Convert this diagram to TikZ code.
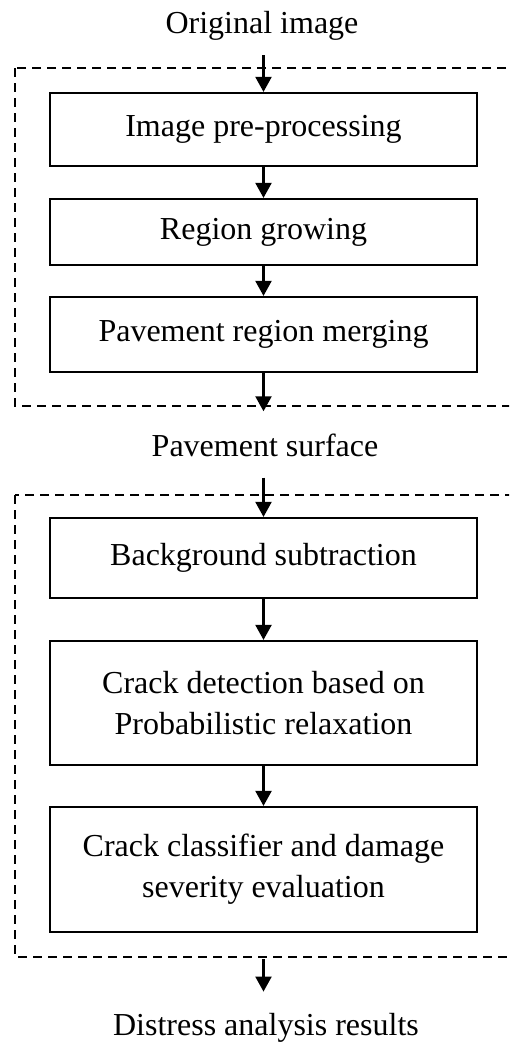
\documentclass[tikz,border=0pt]{standalone}
\usepackage{fontspec}
\setmainfont{Liberation Serif}
\usepackage{tikz}
\usetikzlibrary{arrows.meta, positioning}

\begin{document}
\begin{tikzpicture}[
  x=1pt, y=-1pt,
  font=\fontsize{32}{41}\selectfont,
  stage/.style={draw, line width=2.2pt, minimum width=427pt, inner sep=0pt, align=center},
  label/.style={inner sep=0pt, anchor=base},
  group/.style={draw, line width=1.8pt, dash pattern=on 9pt off 6pt},
  edge/.style={-{Triangle[length=15pt, width=16pt]}, line width=2.2pt}
]
\useasboundingbox (0,0) rectangle (509,1042);
\clip (0,0) rectangle (509,1042);

% dashed groups
\draw[group] (15,68) rectangle (530,406);
\draw[group] (15,495) rectangle (530,957);

\node[label] (orig) at (262,33) {Original image};
\node[stage, minimum height=73pt] (pre) at (263.5,129.5) {Image pre-processing};
\node[stage, minimum height=66pt] (grow) at (263.5,232) {Region growing};
\node[stage, minimum height=75pt] (merge) at (263.5,334.5) {Pavement region merging};
\node[label] (surf) at (265,456) {Pavement surface};
\node[stage, minimum height=80pt] (bg) at (263.5,558) {Background subtraction};
\node[stage, minimum height=124pt] (det) at (263.5,703) {Crack detection based on\\Probabilistic relaxation};
\node[stage, minimum height=125pt] (cls) at (263.5,869.5) {Crack classifier and damage\\severity evaluation};
\node[label] (dist) at (266,1035) {Distress analysis results};

\draw[edge, shorten <=15pt] (orig.south -| pre.north) -- (pre.north);
\draw[edge] (pre) -- (grow);
\draw[edge] (grow) -- (merge);
\draw[edge, shorten >=22pt] (merge.south) -- (merge.south |- surf.north);
\draw[edge, shorten <=21pt] (surf.south -| bg.north) -- (bg.north);
\draw[edge] (bg) -- (det);
\draw[edge] (det) -- (cls);
\draw[edge, shorten <=26pt, shorten >=21pt] (cls.south) -- (cls.south |- dist.north);
\end{tikzpicture}
\end{document}
